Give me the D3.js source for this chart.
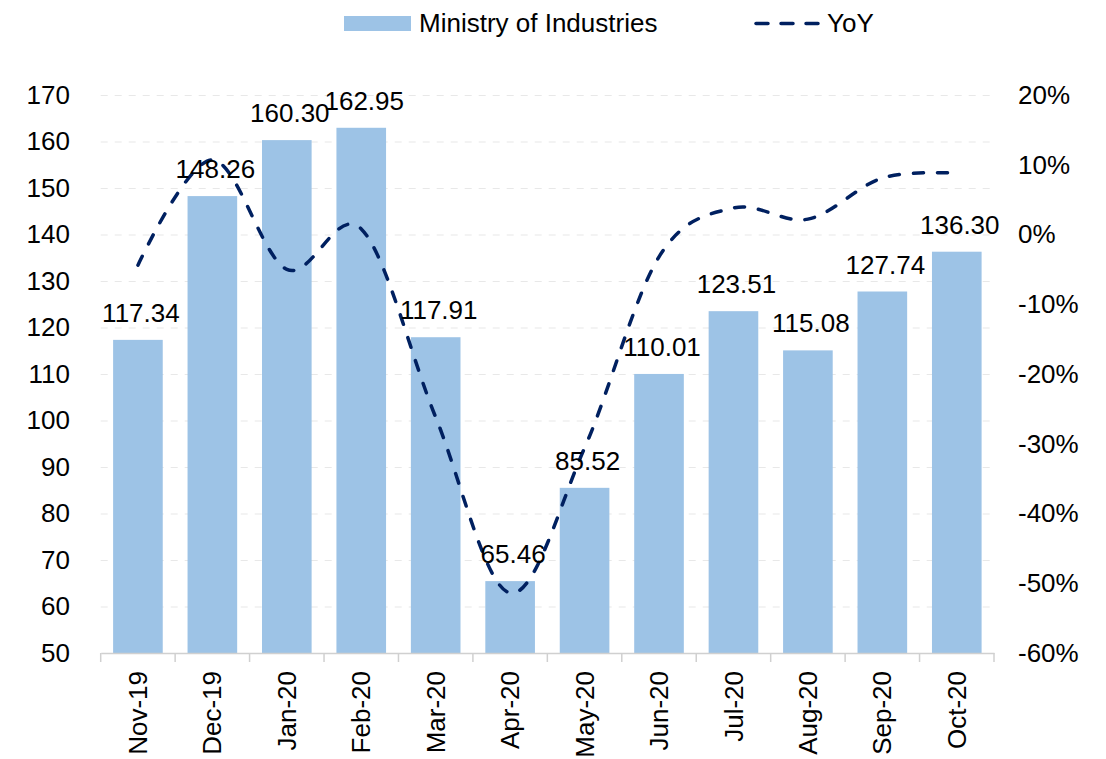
<!DOCTYPE html>
<html>
<head>
<meta charset="utf-8">
<script src="https://cdn.jsdelivr.net/npm/d3@7"></script>
<style>
  body { margin: 0; background: #fff; }
  svg { font-family: Arial, "Liberation Sans", sans-serif; }
  .grid line { stroke: #e8e8e8; stroke-width: 1.2; stroke-dasharray: 7,7; }
  .grid .domain { display: none; }
</style>
</head>
<body>
<script>
// chart data
const categories = ['Nov-19', 'Dec-19', 'Jan-20', 'Feb-20', 'Mar-20', 'Apr-20',
  'May-20', 'Jun-20', 'Jul-20', 'Aug-20', 'Sep-20', 'Oct-20'];
const ministryValues = [117.34, 148.26, 160.30, 162.95, 117.91, 65.46,
  85.52, 110.01, 123.51, 115.08, 127.74, 136.30];
const yoyValues = [-4.4, 10.7, -5.0, 0.8, -26.2, -51.4, -30.6, -3.2, 3.8, 2.2, 8.1, 8.8];
const leftTicks = [50, 60, 70, 80, 90, 100, 110, 120, 130, 140, 150, 160, 170];
const rightTicks = [-60, -50, -40, -30, -20, -10, 0, 10, 20];

const width = 1106;
const height = 759;
const plot = { left: 100.7, right: 994, top: 95, bottom: 653 };
const fontSize = 26;

const svg = d3.select('body')
  .append('svg')
  .attr('width', width)
  .attr('height', height);

// scales
const x = d3.scaleBand()
  .domain(categories)
  .range([plot.left, plot.right])
  .paddingInner(1 / 3)
  .paddingOuter(1 / 6);

const yLeft = d3.scaleLinear().domain([50, 170]).range([plot.bottom, plot.top]);
const yRight = d3.scaleLinear().domain([-60, 20]).range([plot.bottom, plot.top]);

// gridlines
svg.append('g')
  .attr('class', 'grid')
  .attr('transform', `translate(${plot.left},0)`)
  .call(d3.axisLeft(yLeft).tickValues(leftTicks.slice(1))
    .tickSize(-(plot.right - plot.left)).tickFormat(''));

// bars
svg.selectAll('.bar')
  .data(ministryValues)
  .enter()
  .append('rect')
  .attr('class', 'bar')
  .attr('x', (d, i) => x(categories[i]))
  .attr('y', (d) => yLeft(d))
  .attr('width', x.bandwidth())
  .attr('height', (d) => plot.bottom - yLeft(d))
  .attr('fill', '#9dc3e6');

// x axis
const xAxis = svg.append('g')
  .attr('transform', `translate(0,${plot.bottom})`)
  .call(d3.axisBottom(x).tickSize(0).tickFormat(''));
xAxis.select('.domain').attr('stroke', '#d0d0d0').attr('stroke-width', 1.5);

// category boundary ticks
const step = x.step();
const boundaries = d3.range(categories.length + 1).map((i) => plot.left + i * step);
svg.append('g')
  .selectAll('line')
  .data(boundaries)
  .enter()
  .append('line')
  .attr('x1', (d) => d)
  .attr('x2', (d) => d)
  .attr('y1', plot.bottom)
  .attr('y2', plot.bottom + 9)
  .attr('stroke', '#d0d0d0')
  .attr('stroke-width', 1.5);

// rotated category labels
svg.append('g')
  .selectAll('text')
  .data(categories)
  .enter()
  .append('text')
  .attr('transform', (d) => `translate(${x(d) + x.bandwidth() / 2},671) rotate(-90)`)
  .attr('dy', '0.35em')
  .attr('text-anchor', 'end')
  .attr('font-size', fontSize)
  .attr('fill', '#000')
  .text((d) => d);

// left axis labels
const leftAxis = svg.append('g')
  .attr('transform', 'translate(70,0)')
  .call(d3.axisLeft(yLeft).tickValues(leftTicks).tickSize(0).tickPadding(0));
leftAxis.select('.domain').remove();
leftAxis.selectAll('text').attr('font-size', fontSize).attr('fill', '#000')
  .attr('font-family', 'Arial, "Liberation Sans", sans-serif');

// right axis labels
const rightAxis = svg.append('g')
  .attr('transform', 'translate(1018,0)')
  .call(d3.axisRight(yRight).tickValues(rightTicks).tickSize(0).tickPadding(0)
    .tickFormat((d) => `${d}%`));
rightAxis.select('.domain').remove();
rightAxis.selectAll('text').attr('font-size', fontSize).attr('fill', '#000')
  .attr('font-family', 'Arial, "Liberation Sans", sans-serif');

// YoY line
const line = d3.line()
  .x((d, i) => x(categories[i]) + x.bandwidth() / 2)
  .y((d) => yRight(d))
  .curve(d3.curveCatmullRom.alpha(0));

svg.append('path')
  .datum(yoyValues)
  .attr('d', line)
  .attr('fill', 'none')
  .attr('stroke', '#002060')
  .attr('stroke-width', 3.5)
  .attr('stroke-linecap', 'round')
  .attr('stroke-dasharray', '10,14');

// bar value labels
svg.selectAll('.label')
  .data(ministryValues)
  .enter()
  .append('text')
  .attr('class', 'label')
  .attr('x', (d, i) => x(categories[i]) + x.bandwidth() / 2 + 3)
  .attr('y', (d) => yLeft(d) - 18)
  .attr('text-anchor', 'middle')
  .attr('font-size', fontSize)
  .attr('fill', '#000')
  .text((d) => d.toFixed(2));

// legend
const legend = svg.append('g');
legend.append('rect')
  .attr('x', 344).attr('y', 16)
  .attr('width', 67).attr('height', 15)
  .attr('fill', '#9dc3e6');
legend.append('text')
  .attr('x', 419).attr('y', 32)
  .attr('font-size', fontSize)
  .text('Ministry of Industries');
legend.append('line')
  .attr('x1', 756).attr('x2', 824)
  .attr('y1', 23.5).attr('y2', 23.5)
  .attr('stroke', '#002060')
  .attr('stroke-width', 3.5)
  .attr('stroke-linecap', 'round')
  .attr('stroke-dasharray', '12,13');
legend.append('text')
  .attr('x', 827).attr('y', 32)
  .attr('font-size', fontSize)
  .text('YoY');
</script>
</body>
</html>
